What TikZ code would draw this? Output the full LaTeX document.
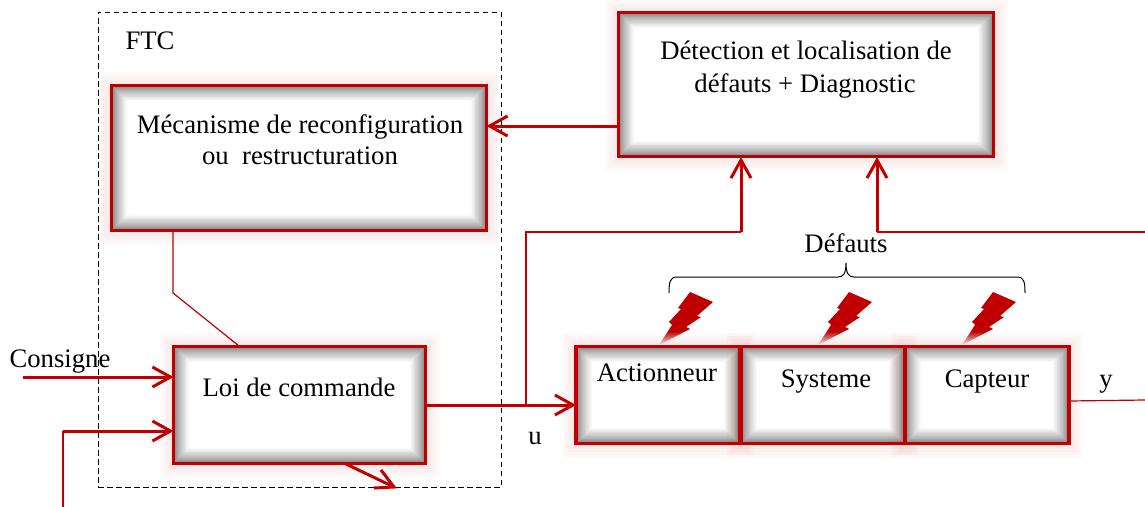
\documentclass[tikz,border=0pt]{standalone}
\usepackage{fontspec}
\setmainfont{Liberation Serif}
\usetikzlibrary{arrows.meta, positioning}
\definecolor{defred}{HTML}{C00000}
\definecolor{boltpale}{HTML}{F6E4E4}
\pgfdeclareverticalshading{boltfade}{100bp}{color(0bp)=(boltpale); color(25bp)=(boltpale); color(38bp)=(defred); color(100bp)=(defred)}

\begin{document}
\begin{tikzpicture}[
    x=1pt, y=-1pt,
    >={Straight Barb[length=18pt,width=20pt]},
    blockbox/.style={draw=defred, fill=white, line width=3.5pt, inner sep=0pt, outer sep=0pt,
        preaction={draw=defred, opacity=.02, line width=28pt},
        preaction={draw=defred, opacity=.02, line width=22pt},
        preaction={draw=defred, opacity=.02, line width=16pt},
        preaction={draw=defred, opacity=.02, line width=10pt},
        path picture={
            \foreach \glowi in {1,...,28}{
                \draw[black, opacity=.025, line width=\glowi*\glowi*.038pt+2pt]
                    (path picture bounding box.south west) rectangle
                    (path picture bounding box.north east);
            }
        }},
    boxtext/.style={font=\fontsize{26.7}{31}\selectfont, inner sep=0pt, anchor=base},
    mainline/.style={draw=defred, line width=3pt},
    thinline/.style={draw=defred, line width=1.2pt},
    every node/.append style={text=black}]

    \useasboundingbox (0,0) rectangle (1145,506);

    % blocks
    \node (det) [blockbox, minimum width=375pt, minimum height=144pt] at (806,84.5) {};
    \node (mec) [blockbox, minimum width=375pt, minimum height=145pt] at (299,158) {};
    \node (loi) [blockbox, minimum width=252pt, minimum height=117pt] at (299.5,405) {};
    \node (act) [blockbox, minimum width=164pt, minimum height=97pt] at (658,395) {};
    \node (sys) [blockbox, minimum width=164pt, minimum height=97pt] at (823,395) {};
    \node (cap) [blockbox, minimum width=164pt, minimum height=97pt] at (987,395) {};
    \node (ftc) [draw, line width=1pt, minimum width=403pt, minimum height=475pt,
        inner sep=0pt, outer sep=0pt, dash pattern=on 5.5pt off 3.5pt] at (299.5,249.5) {};

    % texts
    \node (dettexta) [boxtext] at (806,59) {Détection et localisation de};
    \node (dettextb) [boxtext] at (805,92) {défauts + Diagnostic};
    \node (mectexta) [boxtext] at (300,133) {Mécanisme de reconfiguration};
    \node (mectextb) [boxtext] at (300,164) {ou\ \ restructuration};
    \node (loitext) [boxtext] at (299,396) {Loi de commande};
    \node (acttext) [boxtext] at (657,381) {Actionneur};
    \node (systext) [boxtext] at (826,387) {Systeme};
    \node (captext) [boxtext] at (987,387) {Capteur};
    \node (ftctext) [boxtext] at (150,49) {FTC};
    \node (deftext) [boxtext] at (846,252) {Défauts};
    \node (constext) [boxtext] at (60,367) {Consigne};
    \node (utext) [boxtext] at (535,444) {u};
    \node (ytext) [boxtext] at (1106,387) {y};

    % connectors
    \coordinate (detout) at (618,126);
    \coordinate (ubranch) at (526,405);
    \coordinate (uknee) at (526,232);
    \coordinate (dettopa) at (741,157);
    \coordinate (dettopb) at (877,157);
    \coordinate (yleft) at (1069,401);
    \coordinate (yend) at (1145,400);
    \coordinate (yback) at (1145,232);
    \coordinate (mecout) at (173,231);
    \coordinate (meckink) at (173,293);
    \coordinate (loiin) at (239,346);
    \coordinate (consstart) at (23,377);
    \coordinate (fbstart) at (63,507);
    \coordinate (fbknee) at (63,431);
    \coordinate (loiout) at (346,464);
    \coordinate (loitip) at (394,487);
    \coordinate (barba) at (381,470);
    \coordinate (barbb) at (374,488);

    \draw[mainline,->] (detout) -- (mec.east |- detout);
    \draw[mainline,->] (loi.east |- ubranch) -- (ubranch) -- (act.west |- ubranch);
    \draw[thinline] (ubranch) -- (uknee) -- (uknee -| dettopa);
    \draw[mainline,->] (uknee -| dettopa) -- (dettopa);
    \draw[thinline] (yleft) -- (yend);
    \draw[thinline] (yback) -- (yback -| dettopb);
    \draw[mainline,->] (yback -| dettopb) -- (dettopb);
    \draw[thinline] (mecout) -- (meckink) -- (loiin);
    \draw[mainline,->] (consstart) -- (consstart -| loi.west);
    \draw[thinline] (fbstart) -- (fbknee);
    \draw[mainline,->] (fbknee) -- (fbknee -| loi.west);
    \draw[mainline] (loiout) -- (loitip);
    \draw[mainline] (barba) -- (loitip) -- (barbb);

    % defauts
    \draw[line width=1pt] (669,293) .. controls (669,282) and (670,277) .. (677,277) -- (838,277)
        .. controls (843,277) and (846,274) .. (846,263)
        .. controls (846,274) and (849,277) .. (854,277) -- (1017,277)
        .. controls (1024,277) and (1025,282) .. (1025,293);
    \foreach \tipx in {659,818,962}{
        \shade[shading=boltfade] (\tipx,345) -- ++(13,-20) -- ++(-3,-3) -- ++(12,-13)
            -- ++(-3,-1) -- ++(12,-16) -- ++(23,10) -- ++(-16,14) -- ++(4,1)
            -- ++(-15,10) -- ++(4,2) -- cycle;
    }
\end{tikzpicture}
\end{document}
